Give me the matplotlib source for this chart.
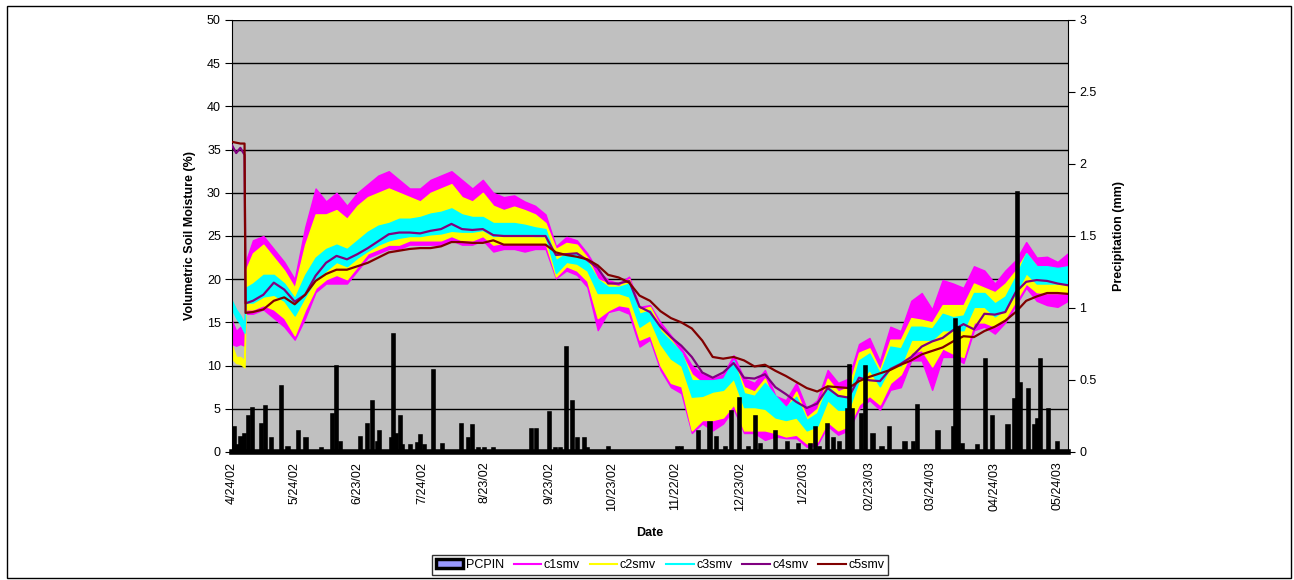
import matplotlib
matplotlib.use("Agg")
import matplotlib.pyplot as plt
import numpy as np
import pandas as pd
from matplotlib.patches import Rectangle, Patch
from matplotlib.lines import Line2D

plt.rcParams['font.family'] = ['Liberation Sans', 'DejaVu Sans']

# ---- data -------------------------------------------------------------
start_date = "2002-04-24"

# sample days (days since start_date)
days = [0, 2, 4, 6, 6.5, 10, 15, 20, 25, 30, 35, 40, 45, 50, 55, 60, 65, 70,
        75, 80, 85, 90, 95, 100, 105, 110, 115, 120, 125, 130, 135, 140, 145,
        150, 155, 160, 165, 170, 175, 180, 185, 190, 195, 200, 205, 210, 215,
        220, 225, 230, 235, 240, 245, 250, 255, 260, 265, 270, 275, 280, 285,
        290, 295, 300, 305, 310, 315, 320, 325, 330, 335, 340, 345, 350, 355,
        360, 365, 370, 375, 380, 385, 390, 395, 400]

# daily range (low / high) of the probe readings, volumetric %
c1_low = [12.5, 12.3, 12.5, 12.3, 16.0, 16.0, 16.5, 15.5, 14.5, 13.0, 15.5, 18.5, 19.5, 19.5, 19.5, 21.0, 22.5, 23.0,
          23.5, 23.5, 24.0, 24.0, 24.0, 24.0, 24.5, 24.0, 24.0, 24.5, 23.2, 23.5, 23.5, 23.2, 23.5,
          23.5, 20.1, 21.0, 20.5, 19.1, 14.1, 16.2, 16.5, 16.0, 12.2, 13.0, 9.5, 7.5, 6.8,
          2.2, 3.3, 2.5, 3.3, 5.0, 2.2, 2.2, 1.4, 1.8, 1.6, 1.6, 0.6, 0.8, 3.0,
          2.0, 2.5, 5.0, 6.0, 4.9, 7.2, 7.5, 10.6, 10.6, 7.2, 11.0, 11.0, 10.3, 14.1,
          14.5, 13.7, 15.0, 17.0, 19.0, 17.5, 17.0, 16.8, 17.5]
c1_high = [15.2, 14.0, 14.5, 13.5, 22.0, 24.5, 25.0, 23.5, 22.0, 20.0, 26.0, 30.5, 29.0, 30.0, 28.5, 30.0, 31.0, 32.0,
           32.5, 31.5, 30.5, 30.5, 31.5, 32.0, 32.5, 31.5, 30.5, 31.5, 30.0, 29.5, 29.7, 29.0, 28.5,
           27.5, 23.8, 24.9, 24.5, 23.0, 21.0, 19.9, 19.5, 20.3, 16.8, 17.0, 15.0, 13.5, 12.0,
           10.0, 9.0, 8.5, 9.0, 11.2, 8.5, 8.0, 9.5, 6.5, 6.0, 8.0, 5.0, 6.0, 9.5,
           8.0, 8.5, 12.5, 13.2, 10.5, 14.5, 14.0, 17.5, 18.4, 16.5, 19.9, 19.5, 19.0, 21.5,
           21.0, 19.5, 21.0, 22.2, 24.3, 22.5, 22.6, 22.0, 23.0]

c2_low = [10.8, 10.3, 10.2, 9.8, 16.5, 16.5, 17.0, 16.5, 15.5, 13.5, 16.5, 19.0, 20.0, 20.5, 20.0, 21.5, 23.0, 23.5,
          24.0, 24.0, 24.5, 24.5, 24.5, 24.5, 25.0, 24.5, 24.5, 25.0, 24.0, 24.2, 24.2, 24.2, 24.2,
          24.2, 20.3, 21.5, 21.0, 19.8, 15.5, 16.4, 17.0, 16.8, 13.0, 13.5, 10.0, 8.0, 7.6,
          2.5, 3.7, 3.7, 4.0, 5.5, 2.5, 2.5, 2.5, 2.2, 1.8, 2.0, 1.0, 1.2, 3.5,
          2.5, 3.0, 5.5, 6.5, 5.5, 8.0, 9.0, 11.5, 11.8, 9.9, 12.0, 11.4, 11.0, 15.0,
          15.0, 14.5, 15.5, 17.5, 19.5, 18.5, 18.4, 18.4, 18.4]
c2_high = [12.3, 11.0, 11.0, 10.6, 21.0, 23.0, 24.0, 22.5, 21.0, 19.0, 24.0, 27.5, 27.5, 28.0, 27.0, 28.5, 29.5, 30.0,
           30.5, 30.0, 29.5, 29.0, 30.0, 30.5, 31.0, 29.5, 29.0, 30.0, 28.5, 28.0, 28.4, 28.0, 27.5,
           26.5, 23.5, 24.2, 24.0, 22.5, 20.0, 19.5, 19.2, 20.0, 16.5, 16.8, 14.5, 13.0, 11.4,
           9.0, 8.0, 7.5, 8.0, 10.5, 7.5, 7.0, 8.5, 5.5, 5.0, 7.0, 4.0, 5.0, 8.5,
           7.0, 7.5, 11.5, 12.0, 9.5, 13.0, 13.0, 15.5, 15.3, 15.0, 17.0, 17.0, 17.0, 19.5,
           19.0, 18.5, 19.5, 21.0, 23.0, 21.5, 21.0, 20.7, 20.5]

c3_low = [16.5, 15.5, 14.8, 13.8, 17.3, 17.3, 18.0, 18.2, 17.5, 15.8, 18.0, 20.0, 21.0, 22.0, 21.5, 22.5, 23.3, 24.0,
          24.5, 24.8, 25.0, 25.0, 25.2, 25.3, 25.6, 25.5, 25.5, 25.7, 25.0, 25.1, 25.1, 25.1, 25.0,
          25.0, 20.7, 22.0, 21.8, 21.0, 18.4, 18.4, 18.4, 18.0, 14.5, 15.3, 12.5, 10.8, 10.0,
          6.4, 6.5, 7.0, 7.2, 8.5, 5.2, 5.2, 5.0, 4.0, 3.7, 4.0, 2.5, 3.0, 6.0,
          4.9, 4.9, 8.3, 9.5, 7.6, 9.9, 10.0, 13.0, 13.0, 13.0, 14.1, 14.1, 14.1, 16.8,
          16.8, 15.7, 16.5, 18.4, 20.7, 19.5, 19.5, 19.5, 19.5]
c3_high = [17.5, 16.5, 15.8, 14.8, 19.0, 19.5, 20.5, 20.5, 19.5, 17.8, 20.5, 22.5, 23.5, 24.0, 23.5, 24.5, 25.5, 26.2,
           26.5, 27.0, 27.0, 27.2, 27.6, 27.8, 28.2, 27.5, 27.2, 27.2, 26.5, 26.5, 26.5, 26.3, 26.0,
           25.8, 22.2, 23.0, 23.0, 22.0, 20.0, 19.1, 19.1, 19.5, 16.0, 16.4, 14.0, 12.8, 11.5,
           8.3, 8.3, 8.3, 8.5, 10.6, 6.8, 6.5, 8.0, 6.5, 5.2, 6.4, 3.7, 4.5, 7.6,
           6.5, 6.4, 10.6, 11.4, 9.1, 12.2, 12.0, 14.5, 14.5, 14.3, 16.0, 15.6, 15.8, 18.4,
           18.4, 17.2, 18.0, 20.3, 23.0, 21.5, 21.5, 21.3, 21.5]

c4_smv = [35.5, 34.6, 35.2, 34.4, 17.2, 17.5, 18.2, 19.6, 18.8, 17.4, 18.2, 20.4, 21.9, 22.7, 22.3, 22.9, 23.6, 24.4,
          25.2, 25.4, 25.4, 25.3, 25.6, 25.8, 26.4, 25.8, 25.7, 25.8, 25.1, 25.0, 25.0, 25.0, 25.0,
          25.0, 22.8, 22.9, 23.0, 22.2, 21.3, 19.5, 19.5, 19.8, 16.8, 16.2, 14.5, 13.3, 12.3,
          11.0, 9.2, 8.6, 9.2, 10.3, 8.6, 8.5, 9.0, 7.5, 6.7, 5.8, 5.1, 5.6, 7.4,
          6.5, 6.3, 8.6, 8.3, 8.2, 9.6, 10.2, 11.0, 12.2, 12.8, 13.2, 14.1, 14.8, 14.2,
          16.0, 15.9, 16.2, 18.5, 19.7, 19.9, 19.8, 19.5, 19.3]

c5_smv = [35.9, 35.8, 35.7, 35.7, 16.1, 16.2, 16.5, 17.5, 17.9, 17.1, 18.2, 19.8, 20.6, 21.1, 21.1, 21.5, 21.9, 22.5,
          23.1, 23.3, 23.5, 23.6, 23.6, 23.8, 24.3, 24.3, 24.2, 24.2, 24.5, 24.0, 24.0, 24.0, 24.0,
          24.0, 23.1, 22.8, 22.6, 22.3, 21.6, 20.5, 20.2, 19.6, 18.1, 17.5, 16.3, 15.5, 15.0,
          14.3, 12.9, 11.0, 10.8, 11.0, 10.6, 9.9, 10.1, 9.4, 8.8, 8.1, 7.4, 7.0, 7.6,
          7.5, 7.4, 8.2, 8.7, 9.1, 9.5, 10.1, 10.6, 11.3, 11.7, 12.1, 12.8, 13.4, 13.3,
          14.0, 14.5, 15.2, 16.2, 17.5, 18.0, 18.4, 18.4, 18.3]

# precipitation events (days since start_date, amount)
pcp_days = [1, 2.5, 4.3, 5.8, 8, 9.6, 14.3, 16, 19.1, 23.5, 26.8, 32, 35.4, 43, 48.3, 50.2, 51.7,
            61.7, 65, 67, 69.4, 70.5, 76.2, 77.5, 78.8, 80.4, 81.8, 85.2, 88.6, 90.4, 91.9, 96.2,
            100.5, 110, 113, 115.3, 118, 121, 125, 143.5, 145.5, 152, 155, 157, 160, 162.7, 165.5,
            168.5, 170, 180, 213, 215, 223, 228.7, 232, 236, 239, 243, 247, 250.7, 253, 260, 266,
            271, 276.6, 279.4, 281.3, 284.7, 287.6, 290.5, 294.5, 295.5, 297, 301.4, 303.3, 306.7,
            311, 314.8, 322, 326, 328.2, 337.8, 345, 346, 347.5, 349.5, 356.5, 360.3, 364, 371.3,
            374.5, 375.8, 377.5, 381.2, 383.8, 385.6, 387, 390.6, 394.8]
pcp_mm = [0.17, 0.04, 0.095, 0.12, 0.24, 0.30, 0.19, 0.31, 0.09, 0.45, 0.03, 0.14, 0.09, 0.02, 0.26, 0.59, 0.06,
          0.095, 0.19, 0.35, 0.06, 0.14, 0.09, 0.81, 0.12, 0.24, 0.04, 0.04, 0.055, 0.11, 0.04, 0.56,
          0.05, 0.19, 0.09, 0.18, 0.02, 0.02, 0.02, 0.15, 0.15, 0.27, 0.02, 0.02, 0.72, 0.35, 0.09,
          0.09, 0.02, 0.025, 0.03, 0.03, 0.14, 0.20, 0.095, 0.025, 0.28, 0.37, 0.025, 0.24, 0.05, 0.14, 0.065,
          0.05, 0.05, 0.17, 0.025, 0.19, 0.09, 0.065, 0.29, 0.60, 0.29, 0.26, 0.59, 0.12,
          0.025, 0.17, 0.06, 0.06, 0.32, 0.14, 0.17, 0.92, 0.86, 0.05, 0.04, 0.64, 0.245, 0.18,
          0.36, 1.80, 0.47, 0.43, 0.18, 0.22, 0.64, 0.29, 0.06]

tick_dates = ["2002-04-24", "2002-05-24", "2002-06-23", "2002-07-24", "2002-08-23", "2002-09-23",
              "2002-10-23", "2002-11-22", "2002-12-23", "2003-01-22", "2003-02-23", "2003-03-24",
              "2003-04-24", "2003-05-24"]
tick_labels = ["4/24/02", "5/24/02", "6/23/02", "7/24/02", "8/23/02", "9/23/02", "10/23/02",
               "11/22/02", "12/23/02", "1/22/03", "02/23/03", "03/24/03", "04/24/03", "05/24/03"]

# ---- figure -----------------------------------------------------------
W, H = 1294, 580
fig = plt.figure(figsize=(W / 100, H / 100), dpi=100)
fig.patch.set_facecolor("white")

ax = fig.add_axes([232 / W, 1 - 452 / H, (1068 - 232) / W, (452 - 20) / H])
ax.set_facecolor("#C0C0C0")

x = np.asarray(days, dtype=float)
bands = [(c1_low, c1_high, "#FF00FF"),
         (c2_low, c2_high, "#FFFF00"),
         (c3_low, c3_high, "#00FFFF")]
for lo, hi, col in bands:
    ax.fill_between(x, lo, hi, color=col, linewidth=1.0, edgecolor=col, zorder=2)
ax.plot(x, c4_smv, color="#800080", lw=1.6, zorder=3)
ax.plot(x, c5_smv, color="#800000", lw=1.6, zorder=4)

ax.set_xlim(0, 400)
ax.set_ylim(0, 50)
ax.set_yticks(np.arange(0, 51, 5))
ax.yaxis.grid(True, color="black", lw=1.0)
ax.set_axisbelow(True)

t0 = pd.Timestamp(start_date)
tick_pos = [(pd.Timestamp(d) - t0).days for d in tick_dates]
ax.set_xticks(tick_pos)
ax.set_xticklabels(tick_labels, rotation=90, fontsize=9)
ax.tick_params(axis="x", length=0, pad=7)
ax.tick_params(axis="y", direction="out", length=5, labelsize=9, pad=3)
for s in ["top", "bottom", "right"]:
    ax.spines[s].set_visible(False)
ax.spines["left"].set_color("black")

ax.set_ylabel("Volumetric Soil Moisture (%)", fontsize=9, fontweight="bold", labelpad=8)
ax.set_xlabel("Date", fontsize=9, fontweight="bold", labelpad=12)

# precipitation columns: narrow lavender fill, heavy black outline
ax2 = ax.twinx()
ax2.bar(pcp_days, pcp_mm, width=0.5, color="#9999FF", edgecolor="black", linewidth=2.6, zorder=5)
ax2.axhline(0, color="black", lw=4, clip_on=False, zorder=6)
ax2.set_ylim(0, 3)
ax2.set_yticks(np.arange(0, 3.01, 0.5))
ax2.set_yticklabels(["0", "0.5", "1", "1.5", "2", "2.5", "3"])
ax2.tick_params(axis="y", direction="out", length=5, labelsize=9, pad=3)
for s in ["top", "bottom", "left"]:
    ax2.spines[s].set_visible(False)
ax2.spines["right"].set_color("black")
ax2.set_ylabel("Precipitation (mm)", fontsize=9, fontweight="bold", labelpad=12)
ax2.set_xlim(0, 400)

handles = [Patch(facecolor="#9999FF", edgecolor="black", linewidth=2.5, label="PCPIN"),
           Line2D([], [], color="#FF00FF", lw=1.5, label="c1smv"),
           Line2D([], [], color="#FFFF00", lw=1.5, label="c2smv"),
           Line2D([], [], color="#00FFFF", lw=1.5, label="c3smv"),
           Line2D([], [], color="#800080", lw=1.5, label="c4smv"),
           Line2D([], [], color="#800000", lw=1.5, label="c5smv")]
leg = fig.legend(handles=handles, loc="center", bbox_to_anchor=(660 / W, 1 - 565 / H), ncol=6,
                 fontsize=9, frameon=True, fancybox=False, edgecolor="black",
                 handlelength=2.2, handletextpad=0.2, columnspacing=0.8, borderpad=0.3)
leg.get_frame().set_linewidth(1.0)

fig.add_artist(Rectangle((7 / W, 2 / H), (1291 - 7) / W, (578 - 6) / H, fill=False,
                         edgecolor="black", lw=1.0, transform=fig.transFigure))

fig.savefig("out.png", dpi=100)
